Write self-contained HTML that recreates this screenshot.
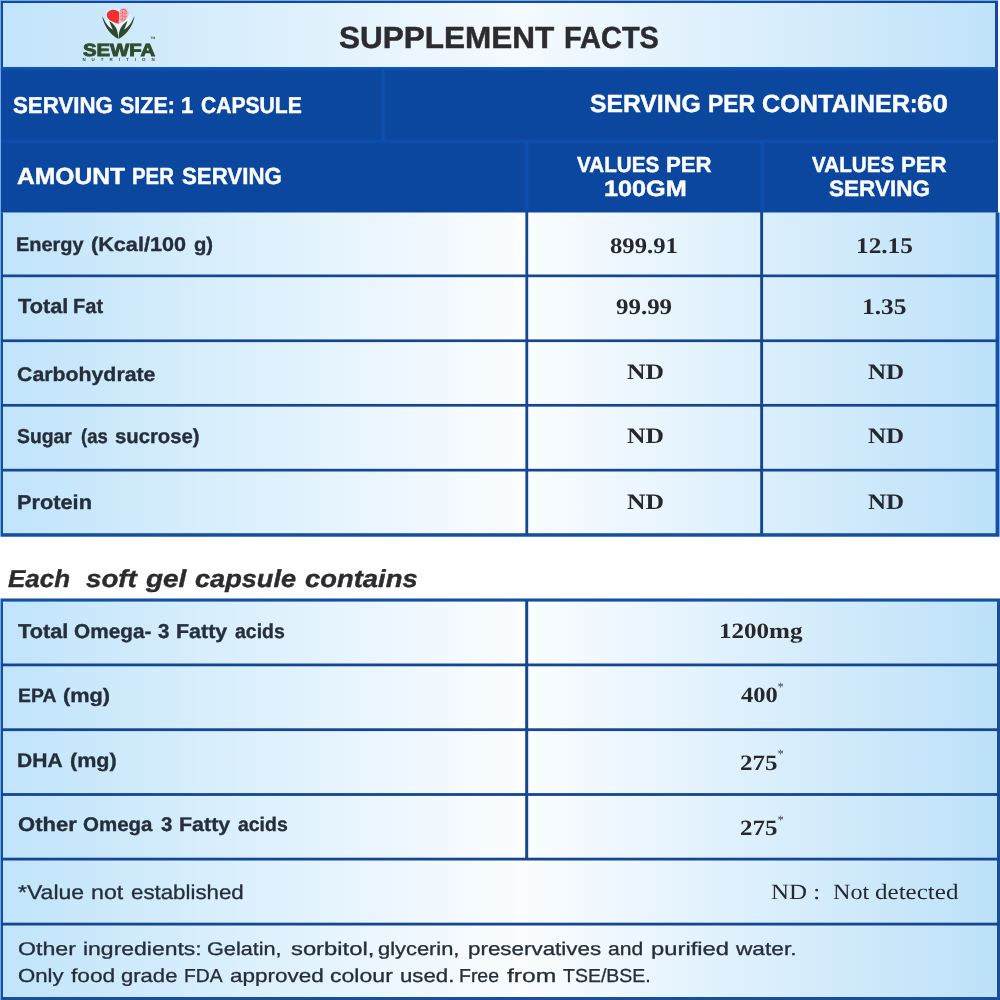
<!DOCTYPE html>
<html>
<head>
<meta charset="utf-8">
<title>Supplement Facts</title>
<style>
html,body{margin:0;padding:0;background:#fff;}
body{width:1000px;height:1000px;position:relative;overflow:hidden;font-family:"Liberation Sans",sans-serif;}
#bg{position:absolute;left:0;top:0;width:1000px;height:1000px;display:block;}
#tx{position:absolute;left:0;top:0;width:1000px;height:1000px;will-change:transform;filter:blur(0.4px);}
.t{position:absolute;white-space:pre;line-height:1;text-rendering:geometricPrecision;transform-origin:0 0;display:block;}
.sb{font-family:"Liberation Sans",sans-serif;font-weight:bold;}
.sr{font-family:"Liberation Sans",sans-serif;font-weight:normal;}
.sbi{font-family:"Liberation Sans",sans-serif;font-weight:bold;font-style:italic;}
.tb{font-family:"Liberation Serif",serif;font-weight:bold;}
.tr{font-family:"Liberation Serif",serif;font-weight:normal;}
</style>
</head>
<body>
<svg id="bg" width="1000" height="1000" viewBox="0 0 1000 1000">
<defs>
<linearGradient id="g" x1="0" y1="0" x2="1000" y2="0" gradientUnits="userSpaceOnUse">
<stop offset="0" stop-color="#c0e4fa"/>
<stop offset="0.522" stop-color="#fbfdff"/>
<stop offset="1" stop-color="#bce1f9"/>
</linearGradient>
<linearGradient id="bt" x1="0" y1="67" x2="0" y2="71.5" gradientUnits="userSpaceOnUse"><stop offset="0" stop-color="#0f58ba"/><stop offset="0.45" stop-color="#0d52b0"/><stop offset="1" stop-color="#0b479e"/></linearGradient>
<filter id="bl" x="-30%" y="-30%" width="160%" height="160%"><feGaussianBlur stdDeviation="1.6"/></filter>
<linearGradient id="g0" x1="0" y1="0" x2="1000" y2="0" gradientUnits="userSpaceOnUse"><stop offset="0" stop-color="#c1e4fa"/><stop offset="0.52" stop-color="#f5fafe"/><stop offset="1" stop-color="#bfe2f9"/></linearGradient>
</defs>
<!-- ===== top section ===== -->
<rect x="0" y="0" width="998" height="68" fill="#70a9ef"/>
<rect x="1" y="1" width="997" height="67" fill="#13489b"/>
<rect x="3" y="3" width="992" height="64.4" fill="url(#g0)"/>
<!-- blue band -->
<rect x="0" y="67" width="998" height="146" fill="#70a9ef"/>
<rect x="1" y="67" width="997" height="145.8" fill="#0b479e"/>
<rect x="1" y="67" width="997" height="4.5" fill="url(#bt)"/>
<!-- faint cell lines in band -->
<rect x="1" y="139.4" width="997" height="4" fill="#1159bd" opacity="0.25"/><rect x="1" y="140.2" width="997" height="2.4" fill="#1159bd" opacity="0.35"/>
<rect x="380.6" y="69" width="5" height="71" fill="#1159bd" opacity="0.22"/><rect x="382" y="69" width="2.4" height="71" fill="#1159bd" opacity="0.4"/>
<rect x="524.4" y="142" width="4.4" height="70" fill="#1159bd" opacity="0.25"/><rect x="525.4" y="142" width="2.4" height="70" fill="#1159bd" opacity="0.35"/>
<rect x="760" y="142" width="5" height="70" fill="#1159bd" opacity="0.25"/><rect x="761.2" y="142" width="2.4" height="70" fill="#1159bd" opacity="0.35"/>
<!-- ===== table 1 ===== -->
<rect x="0" y="212.6" width="1000" height="324" fill="#70a9ef"/>
<rect x="1" y="212.6" width="998" height="324" fill="#15509f"/>
<rect x="3" y="212.6" width="992.6" height="320.6" fill="url(#g)"/>
<g fill="#144691">
<rect x="1" y="274.5" width="997" height="2.7"/>
<rect x="1" y="339.4" width="997" height="2.7"/>
<rect x="1" y="403.95" width="997" height="2.7"/>
<rect x="1" y="468.8" width="997" height="2.7"/>
<rect x="525.4" y="212" width="2.8" height="322"/>
<rect x="760.2" y="212" width="2.9" height="322"/>
</g>
<!-- ===== table 2 ===== -->
<rect x="0" y="598.6" width="1000" height="401.4" fill="#70a9ef"/>
<rect x="1" y="598.6" width="999" height="401.4" fill="#15509f"/>
<rect x="3" y="601.6" width="994" height="395.4" fill="url(#g)"/>
<g fill="#144691">
<rect x="1" y="663.5" width="998" height="2.8"/>
<rect x="1" y="728.3" width="998" height="2.8"/>
<rect x="1" y="793.1" width="998" height="2.8"/>
<rect x="1" y="857.7" width="998" height="2.8"/>
<rect x="1" y="922.7" width="998" height="2.8"/>
<rect x="525.2" y="600" width="3" height="259"/>
</g>
<!-- ===== logo ===== -->
<g>
<ellipse cx="118.4" cy="21.5" rx="12.5" ry="12" fill="#ffffff" opacity="0.55" filter="url(#bl)"/>
<path d="M119.3,12.6 C117.6,10 114,9.2 111.3,10 C108,11 106.2,13.8 107,16.6 C108,20.2 113,22.6 118.7,23.9 Z" fill="#ee3131"/>
<path d="M119.3,12.6 C119.4,9.6 122,7.7 124.6,8.1 C127.6,8.7 129.3,12 128.4,15.5 C127.3,19.6 123,22.6 118.7,23.9 Z" fill="#f4b8bd"/>
<g stroke="#dc4a55" stroke-width="0.7" fill="none" opacity="0.85">
<path d="M120,10.5 q2,-1.8 4,-1 q2.4,0.8 3,3"/>
<path d="M120,13.5 q2,-2 3.5,-0.5 q1.5,1.6 3.8,0.4"/>
<path d="M120,16.5 q2,-1.6 3.6,0 q1.4,1.2 3.6,-0.4"/>
<path d="M120,19.6 q1.8,-1.4 3,0 q1,1 2.4,-0.2"/>
<path d="M122.3,9.5 v12 M125,9 v10.5"/>
</g>
<path d="M102.3,16.2 C103.2,23.5 108.5,33.5 117.7,38.7 L118.2,38.4 C118.2,35.0 117.5,30.0 115.8,27.6 C114.0,24.8 111.8,22.6 109.3,21.1 C110.2,23.6 111.4,27.0 112.8,29.7 C108.8,27.8 105.0,22.5 103.6,18.6 Z" fill="#2b4a2b"/>
<path d="M134.5,16.2 C133.6,23.5 128.3,33.5 119.1,38.7 L118.6,38.4 C118.6,35.0 119.3,30.0 121.0,27.6 C122.8,24.8 125.0,22.6 127.5,21.1 C126.6,23.6 125.4,27.0 124.0,29.7 C128.0,27.8 131.8,22.5 133.2,18.6 Z" fill="#2b4a2b"/>
</g>
</svg>
<div id="tx">
<span class="t sb" style="left:339.27px;top:23.00px;font-size:30.58px;color:#2c2c2f;transform:scaleX(1.0300);-webkit-text-stroke:0.5px #2c2c2f;">SUPPLEMENT</span>
<span class="t sb" style="left:564.16px;top:23.00px;font-size:30.58px;color:#2c2c2f;transform:scaleX(0.9466);-webkit-text-stroke:0.5px #2c2c2f;">FACTS</span>
<span class="t sb" style="left:13.06px;top:94.00px;font-size:22.97px;color:#fdfeff;transform:scaleX(0.9693);-webkit-text-stroke:0.45px #fdfeff;">SERVING</span>
<span class="t sb" style="left:119.87px;top:94.00px;font-size:22.97px;color:#fdfeff;transform:scaleX(0.9355);-webkit-text-stroke:0.45px #fdfeff;">SIZE:</span>
<span class="t sb" style="left:180.89px;top:94.00px;font-size:22.97px;color:#fdfeff;transform:scaleX(0.9603);-webkit-text-stroke:0.45px #fdfeff;">1</span>
<span class="t sb" style="left:200.96px;top:94.00px;font-size:22.97px;color:#fdfeff;transform:scaleX(0.9185);-webkit-text-stroke:0.45px #fdfeff;">CAPSULE</span>
<span class="t sb" style="left:590.01px;top:92.00px;font-size:24.86px;color:#fdfeff;transform:scaleX(0.9942);-webkit-text-stroke:0.45px #fdfeff;">SERVING</span>
<span class="t sb" style="left:707.72px;top:92.00px;font-size:24.86px;color:#fdfeff;transform:scaleX(0.9208);-webkit-text-stroke:0.45px #fdfeff;">PER</span>
<span class="t sb" style="left:762.22px;top:92.00px;font-size:24.86px;color:#fdfeff;transform:scaleX(1.0141);-webkit-text-stroke:0.45px #fdfeff;">CONTAINER</span>
<span class="t sb" style="left:909.90px;top:92.00px;font-size:24.86px;color:#fdfeff;transform:scaleX(0.8879);-webkit-text-stroke:0.45px #fdfeff;">:</span>
<span class="t sb" style="left:917.08px;top:92.00px;font-size:24.86px;color:#fdfeff;transform:scaleX(1.1165);-webkit-text-stroke:0.45px #fdfeff;">60</span>
<span class="t sb" style="left:16.95px;top:165.00px;font-size:23.26px;color:#fdfeff;transform:scaleX(1.0597);-webkit-text-stroke:0.45px #fdfeff;">AMOUNT</span>
<span class="t sb" style="left:132.47px;top:165.00px;font-size:23.26px;color:#fdfeff;transform:scaleX(0.8757);-webkit-text-stroke:0.45px #fdfeff;">PER</span>
<span class="t sb" style="left:181.66px;top:165.00px;font-size:23.26px;color:#fdfeff;transform:scaleX(0.9572);-webkit-text-stroke:0.45px #fdfeff;">SERVING</span>
<span class="t sb" style="left:576.86px;top:154.00px;font-size:21.88px;color:#fdfeff;transform:scaleX(0.9434);-webkit-text-stroke:0.45px #fdfeff;">VALUES</span>
<span class="t sb" style="left:666.29px;top:154.00px;font-size:21.88px;color:#fdfeff;transform:scaleX(1.0140);-webkit-text-stroke:0.45px #fdfeff;">PER</span>
<span class="t sb" style="left:603.99px;top:178.00px;font-size:22.17px;color:#fdfeff;transform:scaleX(1.1395);-webkit-text-stroke:0.45px #fdfeff;">100GM</span>
<span class="t sb" style="left:811.86px;top:154.00px;font-size:21.88px;color:#fdfeff;transform:scaleX(0.9434);-webkit-text-stroke:0.45px #fdfeff;">VALUES</span>
<span class="t sb" style="left:901.29px;top:154.00px;font-size:21.88px;color:#fdfeff;transform:scaleX(1.0140);-webkit-text-stroke:0.45px #fdfeff;">PER</span>
<span class="t sb" style="left:828.66px;top:178.00px;font-size:22.17px;color:#fdfeff;transform:scaleX(1.0179);-webkit-text-stroke:0.45px #fdfeff;">SERVING</span>
<span class="t sb" style="left:15.63px;top:236.00px;font-size:19.64px;color:#252e3a;transform:scaleX(1.0170);-webkit-text-stroke:0.35px #252e3a;">Energy</span>
<span class="t sb" style="left:91.22px;top:236.00px;font-size:19.64px;color:#252e3a;transform:scaleX(1.1028);-webkit-text-stroke:0.35px #252e3a;">(Kcal/100</span>
<span class="t sb" style="left:193.67px;top:236.00px;font-size:19.64px;color:#252e3a;transform:scaleX(1.0315);-webkit-text-stroke:0.35px #252e3a;">g)</span>
<span class="t sb" style="left:17.57px;top:297.00px;font-size:20.51px;color:#252e3a;transform:scaleX(1.0601);-webkit-text-stroke:0.35px #252e3a;">Total</span>
<span class="t sb" style="left:73.07px;top:297.00px;font-size:20.51px;color:#252e3a;transform:scaleX(0.9791);-webkit-text-stroke:0.35px #252e3a;">Fat</span>
<span class="t sb" style="left:16.94px;top:366.00px;font-size:19.78px;color:#252e3a;transform:scaleX(1.0773);-webkit-text-stroke:0.35px #252e3a;">Carbohydrate</span>
<span class="t sb" style="left:17.28px;top:427.00px;font-size:20.22px;color:#252e3a;transform:scaleX(0.9567);-webkit-text-stroke:0.35px #252e3a;">Sugar</span>
<span class="t sb" style="left:80.93px;top:427.00px;font-size:20.22px;color:#252e3a;transform:scaleX(0.9165);-webkit-text-stroke:0.35px #252e3a;">(as</span>
<span class="t sb" style="left:115.27px;top:427.00px;font-size:20.22px;color:#252e3a;transform:scaleX(1.0029);-webkit-text-stroke:0.35px #252e3a;">sucrose)</span>
<span class="t sb" style="left:16.78px;top:494.00px;font-size:19.93px;color:#252e3a;transform:scaleX(1.0918);-webkit-text-stroke:0.35px #252e3a;">Protein</span>
<span class="t tb" style="left:610.26px;top:235.00px;font-size:22.39px;color:#26282c;transform:scaleX(1.1040);">899.91</span>
<span class="t tb" style="left:856.38px;top:235.00px;font-size:22.39px;color:#26282c;transform:scaleX(1.1296);">12.15</span>
<span class="t tb" style="left:616.38px;top:296.00px;font-size:22.39px;color:#26282c;transform:scaleX(1.1135);">99.99</span>
<span class="t tb" style="left:862.36px;top:296.00px;font-size:22.39px;color:#26282c;transform:scaleX(1.1364);">1.35</span>
<span class="t tb" style="left:626.62px;top:361.00px;font-size:21.98px;color:#26282c;transform:scaleX(1.1652);">ND</span>
<span class="t tb" style="left:868.02px;top:361.00px;font-size:21.98px;color:#26282c;transform:scaleX(1.1389);">ND</span>
<span class="t tb" style="left:626.62px;top:425.00px;font-size:21.98px;color:#26282c;transform:scaleX(1.1652);">ND</span>
<span class="t tb" style="left:868.02px;top:425.00px;font-size:21.98px;color:#26282c;transform:scaleX(1.1389);">ND</span>
<span class="t tb" style="left:626.62px;top:491.00px;font-size:21.98px;color:#26282c;transform:scaleX(1.1652);">ND</span>
<span class="t tb" style="left:868.02px;top:491.00px;font-size:21.98px;color:#26282c;transform:scaleX(1.1389);">ND</span>
<span class="t sbi" style="left:7.82px;top:568.00px;font-size:24.49px;color:#2c2c2f;transform:scaleX(1.0596);-webkit-text-stroke:0.4px #2c2c2f;">Each</span>
<span class="t sbi" style="left:85.55px;top:568.00px;font-size:24.49px;color:#2c2c2f;transform:scaleX(1.1316);-webkit-text-stroke:0.4px #2c2c2f;">soft</span>
<span class="t sbi" style="left:145.97px;top:568.00px;font-size:24.49px;color:#2c2c2f;transform:scaleX(1.1397);-webkit-text-stroke:0.4px #2c2c2f;">gel</span>
<span class="t sbi" style="left:194.91px;top:568.00px;font-size:24.49px;color:#2c2c2f;transform:scaleX(1.1083);-webkit-text-stroke:0.4px #2c2c2f;">capsule</span>
<span class="t sbi" style="left:304.90px;top:568.00px;font-size:24.49px;color:#2c2c2f;transform:scaleX(1.1195);-webkit-text-stroke:0.4px #2c2c2f;">contains</span>
<span class="t sb" style="left:17.57px;top:622.00px;font-size:20.07px;color:#252e3a;transform:scaleX(1.0831);-webkit-text-stroke:0.35px #252e3a;">Total</span>
<span class="t sb" style="left:73.55px;top:622.00px;font-size:20.07px;color:#252e3a;transform:scaleX(1.0366);-webkit-text-stroke:0.35px #252e3a;">Omega-</span>
<span class="t sb" style="left:158.17px;top:622.00px;font-size:20.07px;color:#252e3a;transform:scaleX(1.0207);-webkit-text-stroke:0.35px #252e3a;">3</span>
<span class="t sb" style="left:176.39px;top:622.00px;font-size:20.07px;color:#252e3a;transform:scaleX(1.0687);-webkit-text-stroke:0.35px #252e3a;">Fatty</span>
<span class="t sb" style="left:234.88px;top:622.00px;font-size:20.07px;color:#252e3a;transform:scaleX(0.9694);-webkit-text-stroke:0.35px #252e3a;">acids</span>
<span class="t sb" style="left:17.81px;top:687.00px;font-size:19.35px;color:#252e3a;transform:scaleX(1.0023);-webkit-text-stroke:0.35px #252e3a;">EPA</span>
<span class="t sb" style="left:62.92px;top:687.00px;font-size:19.35px;color:#252e3a;transform:scaleX(1.1220);-webkit-text-stroke:0.35px #252e3a;">(mg)</span>
<span class="t sb" style="left:16.72px;top:752.00px;font-size:19.78px;color:#252e3a;transform:scaleX(1.0656);-webkit-text-stroke:0.35px #252e3a;">DHA</span>
<span class="t sb" style="left:69.62px;top:752.00px;font-size:19.78px;color:#252e3a;transform:scaleX(1.0906);-webkit-text-stroke:0.35px #252e3a;">(mg)</span>
<span class="t sb" style="left:17.51px;top:816.00px;font-size:19.78px;color:#252e3a;transform:scaleX(1.1147);-webkit-text-stroke:0.35px #252e3a;">Other</span>
<span class="t sb" style="left:83.16px;top:816.00px;font-size:19.78px;color:#252e3a;transform:scaleX(1.0361);-webkit-text-stroke:0.35px #252e3a;">Omega</span>
<span class="t sb" style="left:161.37px;top:816.00px;font-size:19.78px;color:#252e3a;transform:scaleX(1.0352);-webkit-text-stroke:0.35px #252e3a;">3</span>
<span class="t sb" style="left:179.00px;top:816.00px;font-size:19.78px;color:#252e3a;transform:scaleX(1.0843);-webkit-text-stroke:0.35px #252e3a;">Fatty</span>
<span class="t sb" style="left:238.09px;top:816.00px;font-size:19.78px;color:#252e3a;transform:scaleX(0.9835);-webkit-text-stroke:0.35px #252e3a;">acids</span>
<span class="t tb" style="left:719.00px;top:621.00px;font-size:21.79px;color:#26282c;transform:scaleX(1.1501);">1200mg</span>
<span class="t tb" style="left:740.76px;top:685.00px;font-size:21.79px;color:#26282c;transform:scaleX(1.1229);">400</span>
<span class="t tb" style="left:740.00px;top:752.00px;font-size:21.94px;color:#26282c;transform:scaleX(1.1387);">275</span>
<span class="t tb" style="left:740.00px;top:818.00px;font-size:21.79px;color:#26282c;transform:scaleX(1.1465);">275</span>
<span class="t sr" style="left:18.43px;top:883.00px;font-size:20.14px;color:#252e3a;transform:scaleX(1.1434);-webkit-text-stroke:0.3px #252e3a;">*Value</span>
<span class="t sr" style="left:90.87px;top:883.00px;font-size:20.14px;color:#252e3a;transform:scaleX(1.1511);-webkit-text-stroke:0.3px #252e3a;">not</span>
<span class="t sr" style="left:131.07px;top:883.00px;font-size:20.14px;color:#252e3a;transform:scaleX(1.1073);-webkit-text-stroke:0.3px #252e3a;">established</span>
<span class="t tr" style="left:771.48px;top:882.00px;font-size:21.83px;color:#26282c;transform:scaleX(1.1434);">ND</span>
<span class="t tr" style="left:813.02px;top:882.00px;font-size:21.83px;color:#26282c;transform:scaleX(1.2093);">:</span>
<span class="t tr" style="left:832.70px;top:882.00px;font-size:21.83px;color:#26282c;transform:scaleX(1.1077);">Not</span>
<span class="t tr" style="left:874.62px;top:882.00px;font-size:21.83px;color:#26282c;transform:scaleX(1.1473);">detected</span>
<span class="t sr" style="left:18.15px;top:940.00px;font-size:18.41px;color:#252e3a;transform:scaleX(1.2590);-webkit-text-stroke:0.3px #252e3a;">Other</span>
<span class="t sr" style="left:83.09px;top:940.00px;font-size:18.41px;color:#252e3a;transform:scaleX(1.2475);-webkit-text-stroke:0.3px #252e3a;">ingredients:</span>
<span class="t sr" style="left:207.09px;top:940.00px;font-size:18.41px;color:#252e3a;transform:scaleX(1.1763);-webkit-text-stroke:0.3px #252e3a;">Gelatin,</span>
<span class="t sr" style="left:290.60px;top:940.00px;font-size:18.41px;color:#252e3a;transform:scaleX(1.2922);-webkit-text-stroke:0.3px #252e3a;">sorbitol,</span>
<span class="t sr" style="left:378.30px;top:940.00px;font-size:18.41px;color:#252e3a;transform:scaleX(1.1880);-webkit-text-stroke:0.3px #252e3a;">glycerin,</span>
<span class="t sr" style="left:468.44px;top:940.00px;font-size:18.41px;color:#252e3a;transform:scaleX(1.2163);-webkit-text-stroke:0.3px #252e3a;">preservatives</span>
<span class="t sr" style="left:608.33px;top:940.00px;font-size:18.41px;color:#252e3a;transform:scaleX(1.1456);-webkit-text-stroke:0.3px #252e3a;">and</span>
<span class="t sr" style="left:651.17px;top:940.00px;font-size:18.41px;color:#252e3a;transform:scaleX(1.2934);-webkit-text-stroke:0.3px #252e3a;">purified</span>
<span class="t sr" style="left:736.30px;top:940.00px;font-size:18.41px;color:#252e3a;transform:scaleX(1.2319);-webkit-text-stroke:0.3px #252e3a;">water.</span>
<span class="t sr" style="left:18.18px;top:967.00px;font-size:18.84px;color:#252e3a;transform:scaleX(1.1783);-webkit-text-stroke:0.3px #252e3a;">Only</span>
<span class="t sr" style="left:70.95px;top:967.00px;font-size:18.84px;color:#252e3a;transform:scaleX(1.2069);-webkit-text-stroke:0.3px #252e3a;">food</span>
<span class="t sr" style="left:121.29px;top:967.00px;font-size:18.84px;color:#252e3a;transform:scaleX(1.1713);-webkit-text-stroke:0.3px #252e3a;">grade</span>
<span class="t sr" style="left:184.21px;top:967.00px;font-size:18.84px;color:#252e3a;transform:scaleX(1.0238);-webkit-text-stroke:0.3px #252e3a;">FDA</span>
<span class="t sr" style="left:230.28px;top:967.00px;font-size:18.84px;color:#252e3a;transform:scaleX(1.1955);-webkit-text-stroke:0.3px #252e3a;">approved</span>
<span class="t sr" style="left:330.26px;top:967.00px;font-size:18.84px;color:#252e3a;transform:scaleX(1.2249);-webkit-text-stroke:0.3px #252e3a;">colour</span>
<span class="t sr" style="left:399.84px;top:967.00px;font-size:18.84px;color:#252e3a;transform:scaleX(1.1788);-webkit-text-stroke:0.3px #252e3a;">used.</span>
<span class="t sr" style="left:458.60px;top:967.00px;font-size:18.84px;color:#252e3a;transform:scaleX(1.0339);-webkit-text-stroke:0.3px #252e3a;">Free</span>
<span class="t sr" style="left:506.95px;top:967.00px;font-size:18.84px;color:#252e3a;transform:scaleX(1.3113);-webkit-text-stroke:0.3px #252e3a;">from</span>
<span class="t sr" style="left:562.77px;top:967.00px;font-size:18.84px;color:#252e3a;transform:scaleX(1.0352);-webkit-text-stroke:0.3px #252e3a;">TSE/BSE.</span>
<span class="t sb" style="left:82.61px;top:42.00px;font-size:17.68px;color:#2f4d2c;transform:scaleX(1.1505);-webkit-text-stroke:0.9px #2f4d2c;">SEWFA</span>
<span class="t tr" style="left:777.5px;top:681.0px;font-size:12.6px;color:#38424c;transform:scaleX(1.0);">*</span>
<span class="t tr" style="left:777.5px;top:748.2px;font-size:12.6px;color:#38424c;transform:scaleX(1.0);">*</span>
<span class="t tr" style="left:777.5px;top:814.0px;font-size:12.6px;color:#38424c;transform:scaleX(1.0);">*</span>
<span class="t sb" style="left:82.4px;top:58.3px;font-size:4.4px;color:#3a463a;transform:scaleX(1.0);letter-spacing:6.05px">NUTRITION</span>
<span class="t sb" style="left:150.4px;top:36.9px;font-size:3.3px;color:#2f4d2c;transform:scaleX(1.0);">TM</span>
</div>
</body>
</html>
